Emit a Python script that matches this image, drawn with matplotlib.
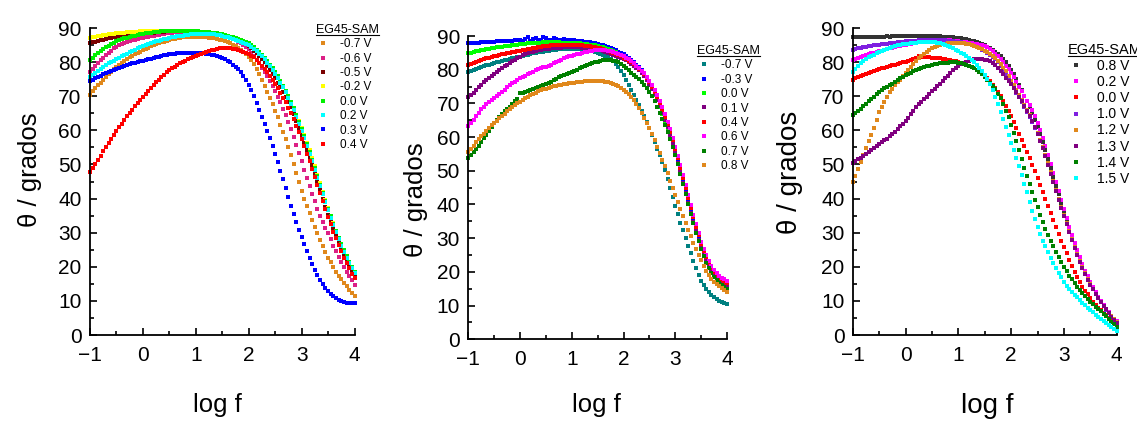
import numpy as np
import matplotlib
matplotlib.use("Agg")
import matplotlib.pyplot as plt
from matplotlib.lines import Line2D

plt.rcParams['font.family'] = ['Liberation Sans', 'DejaVu Sans']

# frequency grid shared by all curves (log f, 20 points per decade)
log_f = np.linspace(-1, 4, 101)

# ---- panel 1 ----
p1_labels = ['-0.7 V', '-0.6 V', '-0.5 V', '-0.2 V', '0.0 V', '0.2 V', '0.3 V', '0.4 V']
p1_colors = ['#e0881c', '#dc1f86', '#7a0000', '#ffff00', '#00f000', '#00ffff', '#0000ff', '#ff0000']
p1_m07 = [70.4, 71.4, 72.3, 73.2, 74.0, 74.8, 75.6, 76.4, 77.1, 77.9,
          78.6, 79.2, 79.8, 80.4, 80.9, 81.4, 81.8, 82.3, 82.7, 83.1,
          83.5, 83.9, 84.2, 84.6, 84.9, 85.2, 85.5, 85.8, 86.0, 86.3,
          86.5, 86.7, 86.9, 87.1, 87.2, 87.3, 87.4, 87.5, 87.5, 87.5,
          87.5, 87.5, 87.5, 87.4, 87.3, 87.2, 87.1, 87.0, 86.8, 86.6,
          86.4, 86.1, 85.8, 85.5, 85.1, 84.7, 84.2, 83.7, 83.1, 82.4,
          81.6, 80.6, 79.5, 78.1, 76.5, 74.8, 72.9, 71.2, 69.5, 67.7,
          65.8, 63.8, 61.7, 59.6, 57.4, 55.1, 52.8, 50.2, 47.6, 44.9,
          42.3, 40.0, 37.8, 35.7, 33.6, 31.7, 29.8, 27.9, 26.0, 24.3,
          22.7, 21.3, 19.9, 18.6, 17.4, 16.3, 15.3, 14.3, 13.3, 12.4,
          11.5]
p1_m06 = [77.2, 78.1, 79.0, 79.8, 80.6, 81.3, 82.0, 82.7, 83.4, 84.0,
          84.5, 84.9, 85.3, 85.6, 85.9, 86.2, 86.4, 86.6, 86.8, 87.0,
          87.1, 87.3, 87.4, 87.6, 87.7, 87.9, 88.0, 88.2, 88.3, 88.4,
          88.5, 88.6, 88.7, 88.8, 88.8, 88.9, 88.9, 89.0, 89.0, 89.0,
          89.0, 89.0, 88.9, 88.9, 88.8, 88.7, 88.6, 88.5, 88.3, 88.2,
          88.0, 87.8, 87.5, 87.2, 86.9, 86.5, 86.0, 85.5, 85.0, 84.4,
          83.8, 82.8, 81.8, 80.7, 79.6, 78.4, 77.2, 75.9, 74.5, 73.0,
          71.5, 69.9, 68.2, 66.4, 64.5, 62.5, 60.3, 58.0, 55.7, 53.3,
          50.9, 48.5, 46.1, 43.7, 41.4, 39.2, 37.0, 35.0, 33.2, 31.5,
          29.8, 28.0, 26.2, 24.5, 22.9, 21.4, 20.0, 18.6, 17.2, 16.0,
          14.8]
p1_m05 = [85.5, 85.8, 86.0, 86.2, 86.4, 86.6, 86.8, 87.0, 87.2, 87.4,
          87.5, 87.6, 87.7, 87.8, 87.9, 88.0, 88.0, 88.1, 88.2, 88.3,
          88.3, 88.4, 88.5, 88.6, 88.6, 88.7, 88.8, 88.9, 88.9, 89.0,
          89.0, 89.0, 89.0, 89.1, 89.1, 89.1, 89.1, 89.1, 89.0, 89.0,
          89.0, 89.0, 88.9, 88.9, 88.8, 88.7, 88.6, 88.5, 88.3, 88.2,
          88.0, 87.8, 87.5, 87.2, 86.9, 86.6, 86.3, 86.0, 85.6, 85.2,
          84.8, 84.1, 83.3, 82.6, 81.8, 80.9, 79.9, 78.8, 77.6, 76.4,
          75.2, 73.9, 72.6, 71.2, 69.8, 68.3, 66.7, 64.8, 62.8, 60.7,
          58.6, 56.4, 54.2, 52.0, 49.7, 47.3, 44.9, 42.5, 40.0, 37.6,
          35.2, 33.1, 31.0, 29.0, 27.0, 25.1, 23.3, 21.6, 20.0, 18.5,
          17.1]
p1_m02 = [87.2, 87.4, 87.5, 87.7, 87.8, 87.9, 88.0, 88.1, 88.2, 88.3,
          88.4, 88.5, 88.5, 88.6, 88.7, 88.8, 88.8, 88.9, 88.9, 89.0,
          89.0, 89.1, 89.1, 89.1, 89.1, 89.2, 89.2, 89.2, 89.2, 89.2,
          89.2, 89.2, 89.2, 89.2, 89.2, 89.2, 89.1, 89.1, 89.1, 89.1,
          89.0, 89.0, 88.9, 88.9, 88.8, 88.7, 88.6, 88.5, 88.4, 88.3,
          88.1, 87.9, 87.7, 87.5, 87.2, 87.0, 86.7, 86.4, 86.1, 85.8,
          85.4, 84.8, 84.2, 83.5, 82.8, 81.9, 81.0, 80.0, 79.0, 77.9,
          76.8, 75.6, 74.3, 72.9, 71.5, 69.9, 68.3, 66.5, 64.6, 62.6,
          60.6, 58.5, 56.3, 54.1, 51.8, 49.4, 47.0, 44.5, 42.0, 39.6,
          37.2, 34.9, 32.7, 30.6, 28.5, 26.6, 24.7, 23.0, 21.3, 19.8,
          18.4]
p1_p00 = [80.6, 81.3, 82.0, 82.6, 83.2, 83.8, 84.3, 84.8, 85.3, 85.7,
          86.1, 86.4, 86.7, 87.0, 87.2, 87.4, 87.6, 87.8, 87.9, 88.1,
          88.2, 88.4, 88.5, 88.6, 88.7, 88.8, 88.9, 89.0, 89.0, 89.1,
          89.1, 89.2, 89.2, 89.2, 89.2, 89.2, 89.2, 89.2, 89.1, 89.1,
          89.0, 89.0, 88.9, 88.9, 88.8, 88.7, 88.6, 88.5, 88.4, 88.3,
          88.1, 87.9, 87.7, 87.5, 87.3, 87.1, 86.8, 86.5, 86.2, 85.9,
          85.5, 85.0, 84.4, 83.7, 83.0, 82.2, 81.3, 80.3, 79.3, 78.2,
          77.0, 75.8, 74.5, 73.1, 71.6, 70.0, 68.3, 66.5, 64.5, 62.5,
          60.4, 58.2, 56.0, 53.7, 51.4, 49.0, 46.6, 44.1, 41.7, 39.3,
          37.0, 34.8, 32.6, 30.5, 28.5, 26.6, 24.8, 23.1, 21.5, 20.0,
          18.6]
p1_p02 = [75.5, 76.2, 76.8, 77.4, 78.0, 78.6, 79.1, 79.6, 80.0, 80.4,
          80.8, 81.3, 81.7, 82.1, 82.5, 82.9, 83.3, 83.7, 84.0, 84.3,
          84.6, 84.9, 85.2, 85.5, 85.8, 86.1, 86.3, 86.5, 86.7, 86.9,
          87.1, 87.3, 87.4, 87.6, 87.7, 87.8, 87.9, 88.0, 88.1, 88.2,
          88.2, 88.3, 88.3, 88.3, 88.3, 88.3, 88.2, 88.1, 88.0, 87.9,
          87.7, 87.5, 87.3, 87.1, 86.8, 86.6, 86.3, 86.0, 85.7, 85.4,
          85.0, 84.5, 83.9, 83.2, 82.5, 81.7, 80.8, 79.8, 78.8, 77.7,
          76.5, 75.3, 74.0, 72.6, 71.1, 69.5, 67.8, 66.0, 64.0, 62.0,
          59.9, 57.7, 55.5, 53.2, 50.9, 48.5, 46.1, 43.7, 41.3, 38.9,
          36.6, 34.4, 32.2, 30.1, 28.1, 26.2, 24.4, 22.7, 21.1, 19.6,
          18.2]
p1_p03 = [74.5, 74.9, 75.3, 75.7, 76.0, 76.4, 76.7, 77.1, 77.4, 77.7,
          78.0, 78.3, 78.6, 78.9, 79.1, 79.4, 79.6, 79.8, 80.0, 80.2,
          80.4, 80.6, 80.8, 81.0, 81.2, 81.4, 81.6, 81.8, 82.0, 82.2,
          82.3, 82.4, 82.5, 82.6, 82.7, 82.8, 82.8, 82.8, 82.8, 82.8,
          82.8, 82.8, 82.7, 82.6, 82.5, 82.4, 82.2, 82.0, 81.8, 81.5,
          81.2, 80.8, 80.4, 79.9, 79.3, 78.7, 78.0, 77.1, 76.0, 74.7,
          73.2, 71.7, 70.0, 68.1, 66.0, 64.0, 62.0, 59.9, 57.8, 55.4,
          53.0, 50.6, 48.2, 45.7, 43.2, 40.5, 37.8, 35.4, 33.0, 30.9,
          28.8, 26.7, 24.6, 22.7, 20.9, 19.2, 17.6, 16.2, 14.9, 13.8,
          12.8, 12.0, 11.3, 10.8, 10.3, 10.0, 9.7, 9.5, 9.4, 9.4,
          9.4]
p1_p04 = [47.7, 49.0, 50.2, 51.4, 52.6, 53.8, 55.0, 56.2, 57.4, 58.6,
          59.8, 60.9, 62.0, 63.1, 64.1, 65.1, 66.1, 67.1, 68.0, 68.9,
          69.8, 70.7, 71.6, 72.5, 73.3, 74.1, 74.9, 75.6, 76.3, 77.0,
          77.6, 78.2, 78.7, 79.2, 79.6, 80.0, 80.4, 80.8, 81.1, 81.4,
          81.7, 82.0, 82.3, 82.6, 82.9, 83.2, 83.5, 83.7, 83.9, 84.0,
          84.1, 84.1, 84.1, 84.0, 83.9, 83.8, 83.6, 83.4, 83.1, 82.8,
          82.4, 81.9, 81.4, 80.6, 79.8, 78.9, 78.0, 77.0, 75.9, 74.8,
          73.6, 72.3, 71.0, 69.6, 68.2, 66.6, 65.0, 63.2, 61.4, 59.5,
          57.5, 55.4, 53.2, 51.0, 48.7, 46.4, 44.0, 41.6, 39.2, 36.9,
          34.6, 32.4, 30.3, 28.3, 26.3, 24.5, 22.7, 21.1, 19.5, 18.0,
          16.6]

# ---- panel 2 ----
p2_labels = ['-0.7 V', '-0.3 V', '0.0 V', '0.1 V', '0.4 V', '0.6 V', '0.7 V', '0.8 V']
p2_colors = ['#008080', '#0000ff', '#00ff00', '#800080', '#ff0000', '#ff00ff', '#008000', '#e0881c']
p2_m07 = [79.4, 79.7, 80.0, 80.3, 80.6, 80.9, 81.1, 81.3, 81.5, 81.8,
          82.0, 82.2, 82.4, 82.6, 82.8, 83.0, 83.2, 83.4, 83.6, 83.8,
          83.9, 84.1, 84.3, 84.5, 84.7, 84.9, 85.0, 85.2, 85.3, 85.4,
          85.5, 85.6, 85.7, 85.8, 85.9, 86.0, 86.0, 86.1, 86.1, 86.1,
          86.1, 86.1, 86.1, 86.1, 86.0, 85.9, 85.8, 85.7, 85.5, 85.3,
          85.1, 84.8, 84.5, 84.1, 83.7, 83.2, 82.6, 81.8, 80.8, 79.7,
          78.4, 77.0, 75.5, 74.0, 72.5, 71.0, 69.4, 67.8, 66.2, 64.5,
          62.6, 60.6, 58.6, 56.6, 54.6, 52.5, 50.2, 47.7, 45.0, 42.3,
          39.6, 37.1, 34.6, 32.3, 30.0, 27.7, 25.5, 23.3, 21.2, 19.2,
          17.4, 16.0, 14.9, 14.0, 13.2, 12.6, 12.0, 11.5, 11.0, 10.8,
          10.6]
p2_m03 = [87.8, 87.8, 87.9, 88.0, 88.0, 88.1, 88.1, 88.2, 88.2, 88.3,
          88.3, 88.4, 88.4, 88.4, 88.5, 88.5, 88.6, 88.6, 88.7, 88.8,
          88.9, 88.6, 89.2, 89.6, 88.6, 89.1, 89.5, 88.7, 88.9, 89.6,
          89.3, 88.8, 88.8, 89.4, 89.1, 88.7, 88.7, 89.0, 88.9, 88.8,
          88.7, 88.7, 88.6, 88.5, 88.4, 88.3, 88.2, 88.1, 87.9, 87.8,
          87.6, 87.4, 87.2, 87.0, 86.7, 86.4, 86.1, 85.8, 85.4, 85.0,
          84.6, 84.1, 83.5, 82.9, 82.2, 81.5, 80.8, 79.9, 78.8, 77.5,
          76.1, 74.6, 73.0, 71.3, 69.4, 67.4, 65.3, 63.1, 60.8, 58.3,
          55.6, 52.8, 49.8, 46.8, 43.8, 40.8, 37.9, 35.0, 32.3, 29.8,
          27.4, 25.3, 23.4, 21.8, 20.5, 19.5, 18.6, 17.9, 17.2, 16.7,
          16.2]
p2_p00 = [84.9, 85.1, 85.3, 85.5, 85.6, 85.8, 85.9, 86.1, 86.2, 86.4,
          86.5, 86.6, 86.7, 86.8, 86.9, 87.0, 87.1, 87.2, 87.3, 87.4,
          87.5, 87.6, 87.7, 87.8, 87.8, 87.9, 87.9, 88.0, 88.0, 88.1,
          88.1, 88.1, 88.1, 88.1, 88.1, 88.1, 88.0, 88.0, 88.0, 88.0,
          87.9, 87.9, 87.8, 87.8, 87.7, 87.6, 87.5, 87.4, 87.3, 87.2,
          87.0, 86.8, 86.6, 86.4, 86.1, 85.8, 85.5, 85.2, 84.8, 84.4,
          84.0, 83.5, 82.9, 82.3, 81.6, 80.9, 80.1, 79.2, 78.2, 77.0,
          75.6, 74.2, 72.6, 70.9, 69.0, 67.0, 64.9, 62.7, 60.3, 57.8,
          55.1, 52.2, 49.3, 46.3, 43.3, 40.4, 37.5, 34.7, 31.9, 29.4,
          27.0, 24.9, 23.0, 21.4, 20.0, 18.9, 18.0, 17.2, 16.5, 16.0,
          15.5]
p2_p01 = [72.0, 72.6, 73.2, 74.0, 74.8, 75.6, 76.4, 77.0, 77.6, 78.2,
          78.8, 79.4, 79.9, 80.5, 81.0, 81.5, 82.0, 82.5, 83.0, 83.5,
          83.9, 84.3, 84.6, 84.9, 85.2, 85.4, 85.6, 85.8, 85.9, 86.0,
          86.1, 86.2, 86.3, 86.4, 86.4, 86.5, 86.5, 86.6, 86.6, 86.6,
          86.6, 86.6, 86.6, 86.6, 86.5, 86.5, 86.4, 86.3, 86.2, 86.1,
          85.9, 85.7, 85.5, 85.3, 85.0, 84.8, 84.5, 84.2, 83.9, 83.6,
          83.2, 82.8, 82.3, 81.8, 81.2, 80.6, 79.9, 79.1, 78.1, 76.9,
          75.6, 74.2, 72.7, 71.0, 69.1, 67.2, 65.1, 62.9, 60.5, 58.0,
          55.3, 52.4, 49.5, 46.5, 43.5, 40.5, 37.6, 34.7, 32.0, 29.5,
          27.1, 25.0, 23.1, 21.5, 20.1, 19.0, 18.1, 17.3, 16.6, 16.1,
          15.6]
p2_p04 = [81.4, 81.7, 82.0, 82.3, 82.6, 82.9, 83.1, 83.4, 83.6, 83.8,
          84.0, 84.2, 84.4, 84.6, 84.7, 84.9, 85.0, 85.2, 85.3, 85.5,
          85.6, 85.8, 85.9, 86.1, 86.2, 86.4, 86.5, 86.7, 86.8, 86.9,
          87.0, 87.1, 87.2, 87.3, 87.3, 87.4, 87.4, 87.4, 87.4, 87.4,
          87.4, 87.4, 87.3, 87.3, 87.2, 87.1, 87.0, 86.9, 86.8, 86.7,
          86.5, 86.3, 86.1, 85.9, 85.6, 85.3, 85.0, 84.7, 84.4, 84.0,
          83.6, 83.2, 82.7, 82.2, 81.6, 81.0, 80.3, 79.5, 78.6, 77.5,
          76.3, 75.0, 73.5, 71.8, 70.0, 68.1, 66.1, 63.9, 61.6, 59.1,
          56.5, 53.7, 50.9, 48.0, 45.0, 42.0, 39.1, 36.2, 33.4, 30.8,
          28.4, 26.2, 24.3, 22.7, 21.2, 20.1, 19.1, 18.3, 17.6, 17.1,
          16.6]
p2_p06 = [63.4, 64.3, 65.2, 66.3, 67.3, 68.2, 69.0, 69.7, 70.3, 70.9,
          71.5, 72.2, 72.8, 73.5, 74.1, 74.8, 75.4, 76.0, 76.5, 77.0,
          77.4, 77.8, 78.2, 78.6, 79.0, 79.4, 79.8, 80.1, 80.4, 80.7,
          80.9, 81.2, 81.5, 81.9, 82.3, 82.7, 83.0, 83.4, 83.7, 84.0,
          84.2, 84.4, 84.6, 84.8, 85.0, 85.2, 85.3, 85.5, 85.6, 85.7,
          85.8, 85.8, 85.8, 85.7, 85.6, 85.5, 85.3, 85.1, 84.8, 84.5,
          84.1, 83.6, 83.1, 82.5, 81.9, 81.2, 80.5, 79.7, 78.9, 77.9,
          76.7, 75.4, 74.0, 72.4, 70.7, 68.8, 66.8, 64.6, 62.3, 59.8,
          57.2, 54.4, 51.6, 48.7, 45.7, 42.7, 39.8, 36.9, 34.1, 31.5,
          29.0, 26.8, 24.9, 23.3, 21.8, 20.7, 19.7, 18.9, 18.3, 17.8,
          17.4]
p2_p07 = [53.7, 54.6, 55.5, 56.4, 57.4, 58.5, 59.6, 60.7, 61.9, 63.1,
          64.3, 65.2, 66.1, 66.9, 67.6, 68.2, 68.9, 69.8, 70.7, 71.2,
          73.0, 73.2, 73.5, 73.7, 74.0, 74.3, 74.6, 74.9, 75.2, 75.5,
          75.8, 76.1, 76.5, 76.9, 77.3, 77.7, 78.1, 78.5, 78.8, 79.1,
          79.4, 79.7, 80.0, 80.4, 80.7, 81.0, 81.3, 81.6, 81.9, 82.2,
          82.4, 82.6, 82.8, 82.9, 82.9, 82.8, 82.7, 82.5, 82.2, 81.8,
          81.2, 80.5, 79.8, 79.1, 78.5, 77.9, 77.2, 76.4, 75.6, 74.6,
          73.4, 72.1, 70.6, 69.0, 67.3, 65.5, 63.6, 61.6, 59.4, 57.1,
          54.8, 51.9, 49.0, 46.0, 43.0, 40.1, 37.2, 34.4, 31.6, 29.1,
          26.7, 24.6, 22.7, 21.1, 19.7, 18.6, 17.6, 16.8, 16.0, 15.4,
          14.8]
p2_p08 = [55.5, 56.5, 57.5, 58.4, 59.3, 60.2, 61.0, 61.9, 62.7, 63.5,
          64.2, 64.9, 65.6, 66.3, 66.9, 67.6, 68.2, 68.8, 69.4, 70.0,
          70.5, 71.0, 71.5, 72.0, 72.4, 72.8, 73.2, 73.6, 73.9, 74.2,
          74.4, 74.7, 74.9, 75.1, 75.3, 75.5, 75.6, 75.8, 75.9, 76.0,
          76.1, 76.2, 76.3, 76.4, 76.5, 76.6, 76.6, 76.7, 76.7, 76.7,
          76.7, 76.7, 76.6, 76.5, 76.3, 76.1, 75.8, 75.5, 75.1, 74.6,
          74.1, 73.5, 72.8, 71.9, 70.9, 69.8, 68.6, 67.3, 65.8, 64.3,
          62.6, 60.9, 59.1, 57.2, 55.3, 53.3, 51.3, 49.2, 47.1, 45.0,
          42.8, 40.7, 38.6, 36.5, 34.5, 32.5, 30.6, 28.7, 26.8, 25.1,
          23.4, 21.8, 20.4, 19.1, 18.0, 17.1, 16.4, 15.7, 15.1, 14.6,
          14.1]

# ---- panel 3 ----
p3_labels = ['0.8 V', '0.2 V', '0.0 V', '1.0 V', '1.2 V', '1.3 V', '1.4 V', '1.5 V']
p3_colors = ['#333333', '#ff00ff', '#ff0000', '#7f1fe0', '#e0881c', '#800080', '#008000', '#00ffff']
p3_p08 = [87.3, 87.3, 87.3, 87.4, 87.4, 87.4, 87.4, 87.5, 87.4, 87.5,
          87.5, 87.5, 87.5, 87.6, 87.5, 87.6, 87.6, 87.7, 87.6, 87.7,
          87.7, 87.8, 87.7, 87.8, 87.8, 87.7, 87.7, 87.8, 87.8, 87.7,
          87.7, 87.7, 87.6, 87.6, 87.5, 87.5, 87.4, 87.4, 87.3, 87.2,
          87.1, 87.0, 86.8, 86.7, 86.5, 86.3, 86.1, 85.9, 85.6, 85.3,
          84.9, 84.5, 84.1, 83.6, 83.0, 82.4, 81.7, 80.9, 80.0, 79.0,
          77.8, 76.5, 75.0, 73.4, 71.8, 70.2, 68.6, 66.8, 65.0, 63.0,
          61.0, 58.9, 56.6, 54.1, 51.6, 49.0, 46.4, 43.8, 41.2, 38.6,
          36.0, 33.5, 31.0, 28.7, 26.4, 24.3, 22.3, 20.4, 18.6, 16.9,
          15.3, 13.7, 12.3, 11.0, 9.8, 8.7, 7.6, 6.6, 5.6, 4.8,
          4.0]
p3_p02 = [80.6, 80.9, 81.2, 81.5, 81.8, 82.1, 82.3, 82.6, 82.8, 83.0,
          83.2, 83.4, 83.6, 83.8, 84.0, 84.2, 84.4, 84.6, 84.8, 85.0,
          85.1, 85.3, 85.4, 85.6, 85.7, 85.9, 86.0, 86.1, 86.2, 86.3,
          86.4, 86.5, 86.5, 86.5, 86.5, 86.5, 86.4, 86.4, 86.3, 86.2,
          86.1, 86.0, 85.9, 85.8, 85.7, 85.6, 85.4, 85.3, 85.1, 85.0,
          84.8, 84.4, 83.8, 83.2, 82.5, 81.7, 80.9, 79.9, 78.9, 77.9,
          76.8, 75.5, 74.2, 72.8, 71.4, 70.0, 68.7, 67.4, 66.0, 64.2,
          62.2, 60.1, 57.8, 55.4, 52.8, 50.1, 47.4, 44.8, 42.2, 39.5,
          36.8, 34.2, 31.6, 29.2, 26.9, 24.8, 22.8, 20.8, 18.9, 17.2,
          15.6, 14.0, 12.5, 11.2, 10.0, 8.8, 7.7, 6.7, 5.7, 4.8,
          4.0]
p3_p00 = [74.8, 75.2, 75.5, 75.9, 76.2, 76.5, 76.8, 77.1, 77.4, 77.7,
          77.9, 78.2, 78.4, 78.7, 78.9, 79.1, 79.3, 79.5, 79.7, 79.9,
          80.1, 80.3, 80.6, 80.9, 81.2, 81.7, 81.6, 81.5, 81.5, 81.4,
          81.3, 81.3, 81.2, 81.1, 81.0, 80.9, 80.7, 80.6, 80.4, 80.2,
          80.0, 79.8, 79.6, 79.3, 79.0, 78.6, 78.2, 77.7, 77.2, 76.6,
          76.0, 75.2, 74.4, 73.4, 72.4, 71.2, 70.0, 68.6, 67.2, 65.7,
          64.2, 62.5, 60.8, 59.0, 57.2, 55.4, 53.6, 51.8, 49.9, 48.0,
          46.0, 44.0, 42.0, 39.9, 37.8, 35.7, 33.6, 31.6, 29.6, 27.7,
          25.8, 23.9, 22.0, 20.2, 18.5, 17.0, 15.5, 14.2, 13.0, 11.9,
          10.8, 9.8, 8.8, 8.0, 7.2, 6.5, 5.8, 5.1, 4.5, 3.9,
          3.4]
p3_p10 = [83.6, 83.8, 84.0, 84.2, 84.3, 84.5, 84.6, 84.8, 84.9, 85.0,
          85.1, 85.2, 85.3, 85.4, 85.5, 85.6, 85.7, 85.8, 85.9, 86.0,
          86.1, 86.2, 86.2, 86.3, 86.3, 86.4, 86.4, 86.5, 86.5, 86.5,
          86.5, 86.5, 86.5, 86.5, 86.4, 86.4, 86.3, 86.2, 86.1, 86.0,
          85.9, 85.8, 85.6, 85.4, 85.2, 85.0, 84.7, 84.4, 84.1, 83.7,
          83.3, 82.8, 82.2, 81.5, 80.8, 79.9, 78.9, 77.8, 76.6, 75.2,
          73.8, 72.4, 71.0, 69.7, 68.3, 66.9, 65.5, 64.0, 62.4, 60.7,
          58.8, 56.9, 54.8, 52.5, 50.0, 47.5, 45.0, 42.4, 39.8, 37.3,
          34.8, 32.5, 30.2, 27.9, 25.6, 23.6, 21.6, 19.7, 18.0, 16.4,
          14.9, 13.4, 12.0, 10.8, 9.6, 8.5, 7.4, 6.4, 5.5, 4.6,
          3.8]
p3_p12 = [44.8, 46.7, 48.6, 50.7, 52.8, 54.8, 56.8, 58.7, 60.6, 63.0,
          65.4, 66.9, 68.4, 69.8, 71.1, 72.2, 73.2, 74.1, 74.9, 75.8,
          76.7, 77.7, 78.6, 79.5, 80.3, 81.1, 81.9, 82.5, 83.1, 83.6,
          84.0, 84.4, 84.7, 85.0, 85.2, 85.4, 85.5, 85.6, 85.6, 85.6,
          85.6, 85.6, 85.5, 85.4, 85.2, 85.0, 84.8, 84.5, 84.2, 83.8,
          83.4, 82.9, 82.4, 81.8, 81.1, 80.3, 79.4, 78.4, 77.3, 76.0,
          74.6, 73.2, 71.8, 70.4, 69.0, 67.5, 66.0, 64.4, 62.8, 61.0,
          59.2, 57.2, 55.1, 52.8, 50.3, 47.8, 45.2, 42.6, 40.0, 37.6,
          35.2, 32.8, 30.4, 28.1, 25.9, 23.8, 21.8, 19.9, 18.1, 16.5,
          15.0, 13.5, 12.1, 10.9, 9.7, 8.6, 7.5, 6.5, 5.5, 4.6,
          3.7]
p3_p13 = [50.5, 51.0, 51.5, 52.0, 52.6, 53.1, 53.7, 54.3, 54.9, 55.5,
          56.0, 56.6, 57.1, 57.6, 58.2, 58.9, 59.6, 60.4, 61.2, 62.0,
          62.8, 63.7, 64.7, 65.8, 66.8, 67.6, 68.4, 69.2, 69.9, 70.7,
          71.4, 72.2, 72.9, 73.7, 74.4, 75.2, 76.0, 76.8, 77.6, 78.3,
          78.9, 79.4, 79.8, 80.1, 80.4, 80.6, 80.8, 80.9, 80.9, 80.8,
          80.7, 80.5, 80.2, 79.8, 79.3, 78.4, 77.3, 76.4, 75.4, 74.5,
          73.6, 72.4, 71.2, 69.9, 68.6, 67.2, 65.8, 64.3, 62.6, 60.9,
          59.0, 57.0, 54.8, 52.4, 49.9, 47.3, 44.8, 42.2, 39.6, 37.2,
          34.9, 32.5, 30.1, 27.8, 25.6, 23.5, 21.5, 19.6, 17.8, 16.2,
          14.8, 13.4, 12.0, 10.8, 9.7, 8.6, 7.5, 6.4, 5.4, 4.5,
          3.6]
p3_p14 = [64.5, 65.1, 65.7, 66.4, 67.1, 67.8, 68.5, 69.2, 69.9, 70.6,
          71.2, 71.8, 72.3, 72.8, 73.2, 73.7, 74.2, 74.8, 75.3, 75.7,
          76.1, 76.5, 76.9, 77.3, 77.6, 78.0, 78.3, 78.6, 78.8, 79.0,
          79.2, 79.4, 79.5, 79.6, 79.7, 79.8, 79.8, 79.9, 79.9, 79.9,
          79.8, 79.7, 79.5, 79.3, 79.0, 78.6, 78.2, 77.7, 77.1, 76.4,
          75.7, 74.9, 74.0, 73.1, 72.0, 70.8, 69.4, 67.7, 65.8, 63.8,
          61.6, 59.3, 56.8, 54.2, 51.6, 49.1, 46.6, 44.3, 42.0, 39.7,
          37.4, 35.2, 33.0, 31.1, 29.2, 27.6, 26.0, 24.4, 22.9, 21.4,
          20.0, 18.7, 17.4, 16.3, 15.2, 14.2, 13.2, 12.3, 11.5, 10.6,
          9.8, 9.0, 8.3, 7.7, 7.0, 6.3, 5.5, 4.7, 3.9, 3.1,
          2.3]
p3_p15 = [77.2, 78.0, 78.8, 79.6, 80.3, 80.9, 81.4, 81.8, 82.2, 82.6,
          82.9, 83.3, 83.6, 83.9, 84.2, 84.5, 84.7, 84.9, 85.0, 85.2,
          85.3, 85.4, 85.5, 85.6, 85.7, 85.8, 85.9, 86.0, 86.0, 86.0,
          85.9, 85.8, 85.7, 85.5, 85.3, 85.1, 84.8, 84.5, 84.1, 83.7,
          83.3, 82.8, 82.3, 81.8, 81.3, 80.6, 79.9, 79.1, 78.3, 77.3,
          76.2, 75.0, 73.6, 71.8, 69.8, 67.7, 65.4, 63.2, 60.9, 58.7,
          56.4, 54.2, 51.9, 49.5, 47.0, 44.4, 41.8, 39.1, 36.4, 34.0,
          31.8, 29.7, 27.7, 26.0, 24.3, 22.6, 21.0, 19.6, 18.2, 16.9,
          15.6, 14.5, 13.5, 12.6, 11.8, 11.0, 10.3, 9.5, 8.8, 8.0,
          7.3, 6.6, 6.0, 5.4, 4.8, 4.2, 3.6, 3.0, 2.4, 1.8,
          1.3]

p1_series = [p1_m07, p1_m06, p1_m05, p1_m02, p1_p00, p1_p02, p1_p03, p1_p04]
p2_series = [p2_m07, p2_m03, p2_p00, p2_p01, p2_p04, p2_p06, p2_p07, p2_p08]
p3_series = [p3_p08, p3_p02, p3_p00, p3_p10, p3_p12, p3_p13, p3_p14, p3_p15]


def draw_panel(ax, series, labels, colors, tick_fs, label_fs, xlab_pos, ylab_pos,
               leg_anchor, leg_fs, leg_spacing):
    for vals, lab, col in zip(series, labels, colors):
        ax.plot(log_f, vals, linestyle='none', marker='s', ms=2.9, mew=0,
                color=col, label=lab, clip_on=False)
    ax.set_xlim(-1, 4)
    ax.set_ylim(0, 90)
    ax.set_xticks(np.arange(-1, 5, 1))
    ax.set_xticks(np.arange(-0.5, 4, 1), minor=True)
    ax.set_yticks(np.arange(0, 91, 10))
    ax.set_yticks(np.arange(5, 90, 10), minor=True)
    ax.spines['top'].set_visible(False)
    ax.spines['right'].set_visible(False)
    ax.spines['left'].set_linewidth(1.3)
    ax.spines['bottom'].set_linewidth(1.3)
    ax.tick_params(which='major', direction='in', length=5, width=1.2,
                   labelsize=tick_fs)
    ax.tick_params(which='minor', direction='in', length=3, width=1.2)
    ax.tick_params(axis='x', which='major', pad=8)
    ax.tick_params(axis='y', which='major', pad=6)
    ax.set_xlabel('log f', fontsize=label_fs)
    ax.set_ylabel('θ / grados', fontsize=label_fs)
    ax.xaxis.set_label_coords(*xlab_pos)
    ax.yaxis.set_label_coords(*ylab_pos)
    leg = ax.legend(loc='upper left', bbox_to_anchor=leg_anchor, frameon=False,
                    fontsize=leg_fs, title='EG45-SAM', title_fontsize=leg_fs + 0.5,
                    alignment='left', numpoints=1, markerscale=1.1,
                    handlelength=1.2, handletextpad=0.85, labelspacing=leg_spacing,
                    borderpad=0, borderaxespad=0)
    return leg


fig = plt.figure(figsize=(11.37, 4.37), dpi=100)
ax1 = fig.add_axes([0.0792, 0.2334, 0.2326, 0.7025])
ax2 = fig.add_axes([0.4119, 0.2236, 0.2275, 0.6940])
ax3 = fig.add_axes([0.7500, 0.2334, 0.2322, 0.7025])

legs = []
legs.append(draw_panel(ax1, p1_series, p1_labels, p1_colors, 15, 18.5,
                       (0.48, -0.19), (-0.18, 0.54), (0.854, 1.013), 8.5, 0.2))
legs.append(draw_panel(ax2, p2_series, p2_labels, p2_colors, 15, 18.5,
                       (0.497, -0.177), (-0.155, 0.46), (0.884, 0.97), 8.5, 0.2))
legs.append(draw_panel(ax3, p3_series, p3_labels, p3_colors, 15, 20,
                       (0.509, -0.19), (-0.19, 0.53), (0.8155, 0.951), 10, 0.15))

# underline legend titles like the original
fig.canvas.draw()
inv = fig.transFigure.inverted()
for leg in legs:
    bb = leg.get_title().get_window_extent()
    (x0, y0), (x1, _) = inv.transform([(bb.x0, bb.y0 + 1), (bb.x1, bb.y0 + 1)])
    fig.add_artist(Line2D([x0, x1], [y0, y0], transform=fig.transFigure,
                          color='black', lw=0.8))

fig.savefig('out.png', dpi=100)
